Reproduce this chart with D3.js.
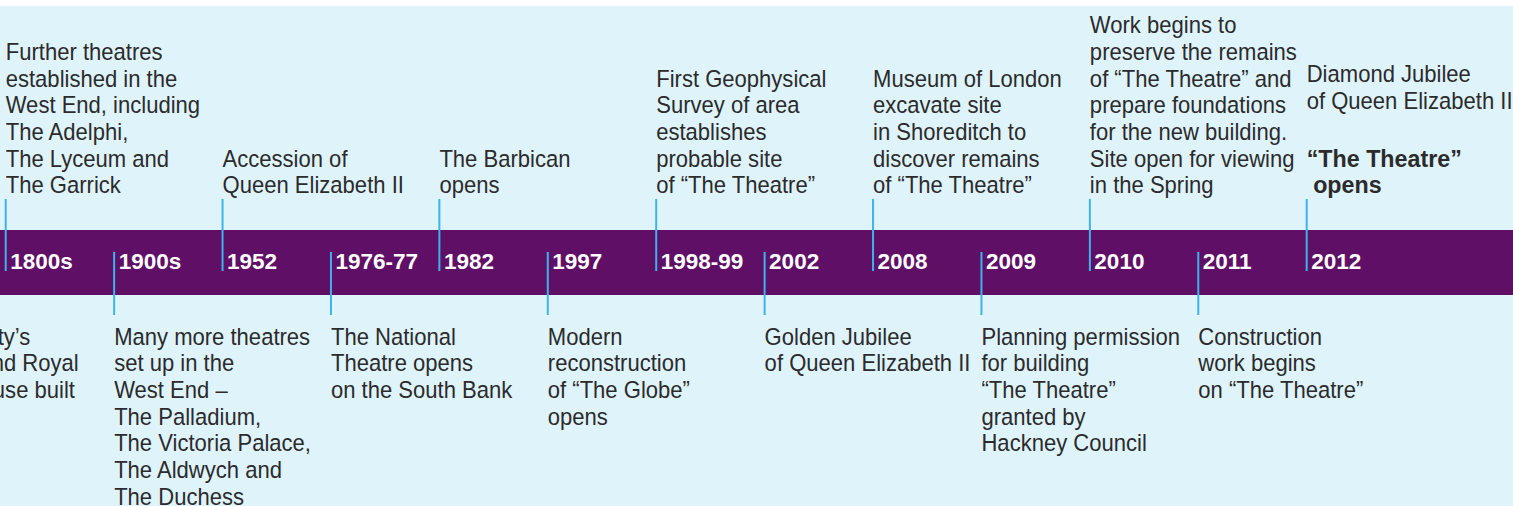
<!DOCTYPE html>
<html>
<head>
<meta charset="utf-8">
<script src="https://cdn.jsdelivr.net/npm/d3@7"></script>
<style>
  html, body { margin: 0; padding: 0; background: #fff; }
  svg { display: block; }
  .event { font-family: 'Liberation Sans', Arial, sans-serif; font-size: 24.5px; fill: #2b2b2b; }
  .year { font-family: 'Liberation Sans', Arial, sans-serif; font-size: 22.5px; font-weight: bold; fill: #fff; }
</style>
</head>
<body>
<div id="chart"></div>
<script>
// timeline entries, the first one sits just off the left edge
const years = ['1700s', '1800s', '1900s', '1952', '1976-77', '1982', '1997',
  '1998-99', '2002', '2008', '2009', '2010', '2011', '2012'];

const eventLines = [
  ['Her Majesty’s', 'Theatre and Royal', 'Opera House built'],
  ['Further theatres', 'established in the', 'West End, including', 'The Adelphi,', 'The Lyceum and', 'The Garrick'],
  ['Many more theatres', 'set up in the', 'West End –', 'The Palladium,', 'The Victoria Palace,', 'The Aldwych and', 'The Duchess'],
  ['Accession of', 'Queen Elizabeth II'],
  ['The National', 'Theatre opens', 'on the South Bank'],
  ['The Barbican', 'opens'],
  ['Modern', 'reconstruction', 'of “The Globe”', 'opens'],
  ['First Geophysical', 'Survey of area', 'establishes', 'probable site', 'of “The Theatre”'],
  ['Golden Jubilee', 'of Queen Elizabeth II'],
  ['Museum of London', 'excavate site', 'in Shoreditch to', 'discover remains', 'of “The Theatre”'],
  ['Planning permission', 'for building', '“The Theatre”', 'granted by', 'Hackney Council'],
  ['Work begins to', 'preserve the remains', 'of “The Theatre” and', 'prepare foundations', 'for the new building.', 'Site open for viewing', 'in the Spring'],
  ['Construction', 'work begins', 'on “The Theatre”'],
  ['Diamond Jubilee', 'of Queen Elizabeth II', '', '*“The Theatre”', '* opens']
];

const width = 1513, height = 506;
const bandTop = 230, bandBottom = 295;
const lh = 26.7;

const svg = d3.select('#chart').append('svg')
  .attr('width', width).attr('height', height);

svg.append('rect').attr('width', width).attr('height', height).attr('fill', '#fff');
svg.append('rect').attr('y', 6).attr('width', width).attr('height', height - 6).attr('fill', '#dff3fb');
svg.append('rect').attr('y', bandTop).attr('width', width).attr('height', bandBottom - bandTop).attr('fill', '#5f0f66');

const x = d3.scalePoint().domain(years).range([-102.7, 1306.7]);

const entries = years.map((y, i) => ({year: y, lines: eventLines[i], up: i % 2 === 1}));

// ticks
svg.append('g').selectAll('line')
  .data(entries)
  .join('line')
  .attr('x1', d => x(d.year)).attr('x2', d => x(d.year))
  .attr('y1', d => d.up ? 199 : 252)
  .attr('y2', d => d.up ? 271 : 315)
  .attr('stroke', '#3ab4ea')
  .attr('stroke-width', 2);

// year labels (the off-page one is not drawn)
svg.append('g').selectAll('text')
  .data(entries.filter(d => x(d.year) >= 0))
  .join('text')
  .attr('class', 'year')
  .attr('x', d => x(d.year) + 4.5)
  .attr('y', 269)
  .text(d => d.year);

// event text: stacked upward from the last line above the band, downward below it
const labels = svg.append('g').selectAll('g')
  .data(entries)
  .join('g');

labels.each(function (d) {
  const g = d3.select(this);
  const ys = [];
  if (d.up) {
    let yy = 193.3;
    for (let k = d.lines.length - 1; k >= 0; k--) {
      ys[k] = yy;
      yy -= d.lines[k] === '' ? lh * 1.15 : lh;
    }
  } else {
    d.lines.forEach((l, k) => ys[k] = 344.5 + k * lh);
  }
  d.lines.forEach((l, k) => {
    if (l === '') return;
    const bold = l[0] === '*';
    g.append('text')
      .attr('class', 'event')
      .attr('transform', `translate(${x(d.year)},${ys[k]}) scale(${bold ? 0.95 : 0.9},1)`)
      .attr('font-weight', bold ? 'bold' : null)
      .attr('xml:space', 'preserve')
      .style('white-space', 'pre')
      .text(bold ? l.slice(1) : l);
  });
});
</script>
</body>
</html>
